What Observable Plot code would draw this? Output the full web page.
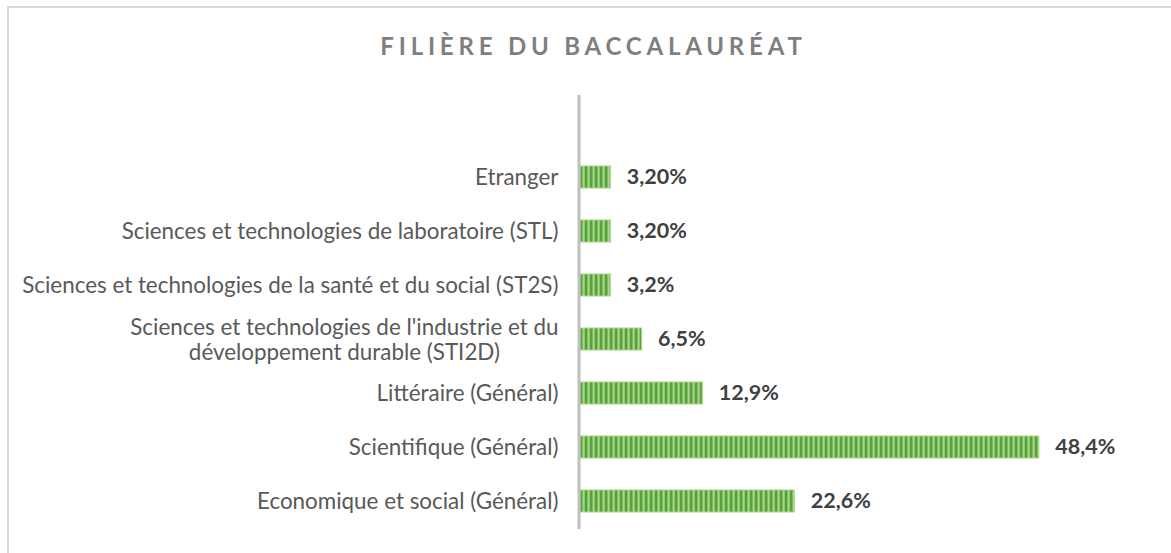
<!DOCTYPE html>
<html>
<head>
<meta charset="utf-8">
<script src="https://cdn.jsdelivr.net/npm/d3@7"></script>
<script src="https://cdn.jsdelivr.net/npm/@observablehq/plot@0.6"></script>
<style>
  html, body { margin: 0; padding: 0; background: #fff; }
  #wrap { position: relative; width: 1171px; height: 553px; overflow: hidden; font-family: Lato, "Open Sans", sans-serif; }
  #frame { position: absolute; left: 7px; top: 6px; width: 1250px; height: 700px; border: 2px solid #d9d9d9; box-sizing: border-box; }
  #title { position: absolute; left: 0; top: 31px; width: 1171px; text-align: center; font-size: 24px; font-weight: bold; letter-spacing: 4.8px; color: #7f7f7f; padding-left: 16px; box-sizing: border-box; }
  #chart { position: absolute; left: 0; top: 90px; }
</style>
</head>
<body>
<div id="wrap">
  <div id="frame"></div>
  <div id="title">FILIÈRE DU BACCALAURÉAT</div>
  <div id="chart"></div>
</div>
<script>
const categories = [
  "Etranger",
  "Sciences et technologies de laboratoire (STL)",
  "Sciences et technologies de la santé et du social (ST2S)",
  "Sciences et technologies de l'industrie et du\ndéveloppement durable (STI2D)",
  "Littéraire (Général)",
  "Scientifique (Général)",
  "Economique et social (Général)"
];
const values = [3.2, 3.2, 3.2, 6.5, 12.9, 48.4, 22.6];
const valueLabels = ["3,20%", "3,20%", "3,2%", "6,5%", "12,9%", "48,4%", "22,6%"];

const data = categories.map((c, i) => ({category: c, value: values[i], label: valueLabels[i]}));

const svg = Plot.plot({
  width: 1171,
  height: 463,
  marginLeft: 580,
  marginRight: 117,
  marginTop: 5,
  marginBottom: 24,
  style: {fontFamily: "Lato, 'Open Sans', sans-serif", background: "transparent"},
  x: {domain: [0, 50], axis: null},
  y: {domain: categories, range: [60, 439], paddingInner: 0.59, paddingOuter: 0.295, align: 0.5, label: null},
  marks: [
    Plot.axisY({tickSize: 0, tickPadding: 22, fontSize: 22.4, fill: "#595959", lineHeight: 1.1, label: null}),
    Plot.barX(data, {y: "category", x: "value", fill: "url(#greenStripes)", stroke: "#a8d68c", strokeWidth: 1}),
    Plot.ruleX([0], {stroke: "#bfbfbf", strokeWidth: 3, dx: -1.5}),
    Plot.text(data, {y: "category", x: "value", text: "label", dx: 16, textAnchor: "start", fontSize: 21.5, fontWeight: "bold", fill: "#404040"})
  ]
});

// stripe pattern for bars
const ns = "http://www.w3.org/2000/svg";
const defs = document.createElementNS(ns, "defs");
const pat = document.createElementNS(ns, "pattern");
pat.setAttribute("id", "greenStripes");
pat.setAttribute("patternUnits", "userSpaceOnUse");
pat.setAttribute("width", "5");
pat.setAttribute("height", "10");
[["0", "5", "#a9d68f"], ["0", "2", "#5ba13b"], ["2", "1", "#7cbd5c"], ["4", "1", "#8cc66e"]].forEach(([x, w, c]) => {
  const r = document.createElementNS(ns, "rect");
  r.setAttribute("x", x); r.setAttribute("y", "0");
  r.setAttribute("width", w); r.setAttribute("height", "10");
  r.setAttribute("fill", c);
  pat.appendChild(r);
});
defs.appendChild(pat);
svg.insertBefore(defs, svg.firstChild);

document.getElementById("chart").appendChild(svg);

// center the lines of multi-line tick labels (block stays right-aligned)
svg.querySelectorAll("text").forEach(t => {
  const spans = t.querySelectorAll("tspan");
  if (spans.length > 1) {
    let maxW = 0;
    spans.forEach(s => { maxW = Math.max(maxW, s.getComputedTextLength()); });
    t.setAttribute("text-anchor", "middle");
    const tr = t.getAttribute("transform") || "";
    t.setAttribute("transform", tr + ` translate(${-maxW / 2},0)`);
  }
});
</script>
</body>
</html>
